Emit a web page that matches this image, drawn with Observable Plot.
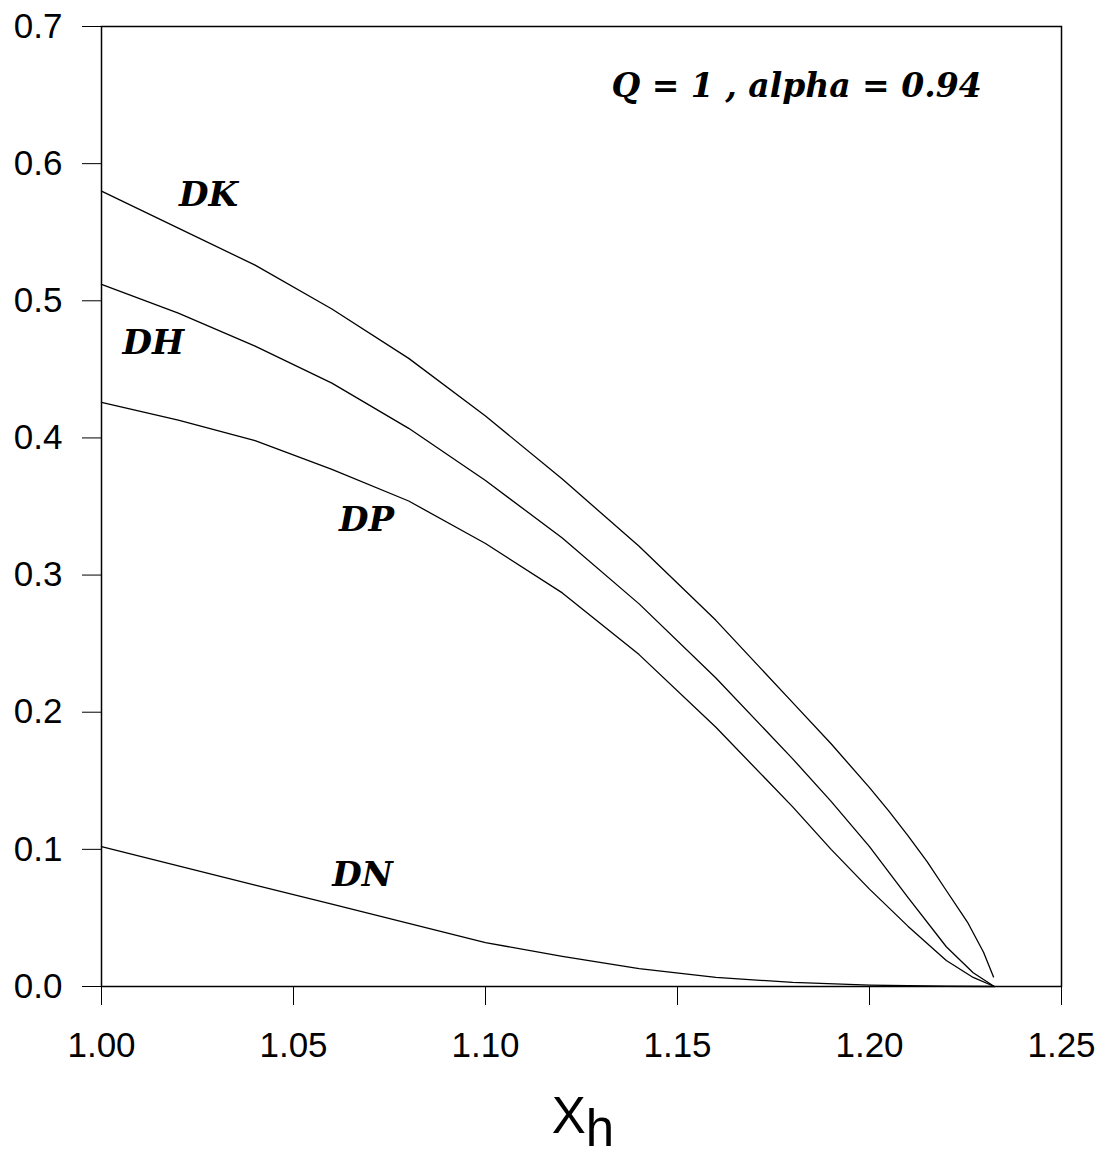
<!DOCTYPE html>
<html>
<head>
<meta charset="utf-8">
<script src="https://cdn.jsdelivr.net/npm/d3@7"></script>
<script src="https://cdn.jsdelivr.net/npm/@observablehq/plot@0.6"></script>
<style>
  html, body { margin: 0; padding: 0; background: #fff; }
</style>
</head>
<body>
<div id="chart"></div>
<script>
// x values (X_h) for each series
const xDK = [1.00, 1.02, 1.04, 1.06, 1.08, 1.10, 1.12, 1.14, 1.16, 1.18, 1.19, 1.20, 1.205, 1.21, 1.215, 1.22, 1.2255, 1.2297, 1.2323];
const yDK = [0.580, 0.553, 0.526, 0.494, 0.458, 0.416, 0.370, 0.321, 0.267, 0.207, 0.177, 0.145, 0.128, 0.110, 0.091, 0.070, 0.047, 0.025, 0.007];

const xDH = [1.00, 1.02, 1.04, 1.06, 1.08, 1.10, 1.12, 1.14, 1.16, 1.18, 1.19, 1.20, 1.21, 1.22, 1.227, 1.2325];
const yDH = [0.512, 0.491, 0.467, 0.440, 0.407, 0.369, 0.327, 0.279, 0.225, 0.166, 0.135, 0.102, 0.065, 0.029, 0.0100, 0.0];

const xDP = [1.00, 1.02, 1.04, 1.06, 1.08, 1.10, 1.12, 1.14, 1.16, 1.18, 1.19, 1.20, 1.21, 1.22, 1.227, 1.2325];
const yDP = [0.426, 0.413, 0.398, 0.377, 0.354, 0.323, 0.287, 0.242, 0.189, 0.131, 0.100, 0.071, 0.044, 0.019, 0.0066, 0.0];

const xDN = [1.00, 1.02, 1.04, 1.06, 1.08, 1.10, 1.12, 1.14, 1.16, 1.18, 1.20, 1.22, 1.2325];
const yDN = [0.102, 0.088, 0.074, 0.060, 0.046, 0.032, 0.022, 0.013, 0.0066, 0.003, 0.001, 0.0002, 0.0];

// curve labels
const labelNames = ["DK", "DH", "DP", "DN"];
const labelX = [1.0279, 1.0135, 1.069, 1.068];
const labelY = [0.577, 0.469, 0.340, 0.081];

const annotationText = ["Q = 1 , alpha = 0.94"];
const annotationX = [1.181];
const annotationY = [0.656];

const xTicks = [1.00, 1.05, 1.10, 1.15, 1.20, 1.25];
const yTicks = [0.0, 0.1, 0.2, 0.3, 0.4, 0.5, 0.6, 0.7];

function series(name, xs, ys) {
  return xs.map((x, i) => ({series: name, x, y: ys[i]}));
}
const data = [
  ...series("DK", xDK, yDK),
  ...series("DH", xDH, yDH),
  ...series("DP", xDP, yDP),
  ...series("DN", xDN, yDN)
];
const labels = labelNames.map((t, i) => ({t, x: labelX[i], y: labelY[i]}));
const annots = annotationText.map((t, i) => ({t, x: annotationX[i], y: annotationY[i]}));

const serif = "'DejaVu Serif', 'Liberation Serif', serif";
const W = 1107, H = 1157;
const plot = Plot.plot({
  width: W,
  height: H,
  marginLeft: 101,
  marginRight: 46,
  marginTop: 26,
  marginBottom: 171,
  style: {fontFamily: "'Liberation Sans', Arial, sans-serif", fontSize: "35px", color: "#000", background: "#fff"},
  x: {domain: [1.0, 1.25], ticks: xTicks, tickFormat: d3.format(".2f"), label: null, tickSize: 19, tickPadding: 27},
  y: {domain: [0, 0.7], ticks: yTicks, tickFormat: d3.format(".1f"), label: null, tickSize: 19, tickPadding: 20},
  marks: [
    Plot.frame({stroke: "#000", strokeWidth: 1.5}),
    Plot.line(data, {x: "x", y: "y", z: "series", stroke: "#000", strokeWidth: 1.3}),
    Plot.text(labels, {x: "x", y: "y", text: "t", fontFamily: serif, fontWeight: "bold", fontStyle: "italic", fontSize: 34, fill: "#000"}),
    Plot.text(annots, {x: "x", y: "y", text: "t", fontFamily: serif, fontWeight: "bold", fontStyle: "italic", fontSize: 33, fill: "#000"})
  ]
});
document.getElementById("chart").appendChild(plot);

// x-axis title with subscript
const svg = d3.select(plot);
const lbl = svg.append("text")
  .attr("x", 583)
  .attr("y", 1133)
  .attr("text-anchor", "middle")
  .attr("font-family", "'Liberation Sans', Arial, sans-serif")
  .attr("font-size", 51)
  .attr("fill", "#000");
lbl.append("tspan").text("X");
lbl.append("tspan").attr("dy", 13).text("h");
</script>
</body>
</html>
